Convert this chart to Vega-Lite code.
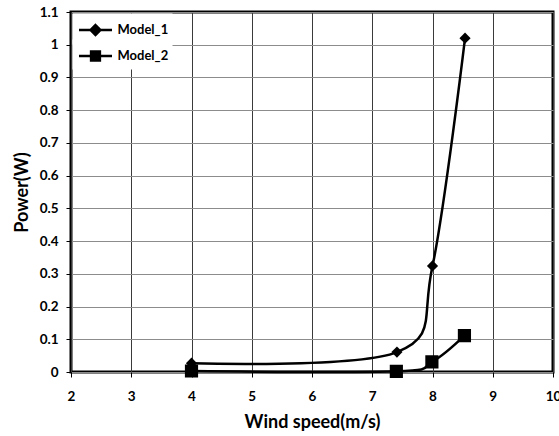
{
  "$schema": "https://vega.github.io/schema/vega-lite/v6.json",
  "width": 482,
  "height": 360,
  "autosize": {"type": "none"},
  "padding": {"left": 71, "top": 12, "right": 6, "bottom": 64},
  "background": "white",
  "config": {
    "font": "Lato",
    "view": {"stroke": "black", "strokeWidth": 3},
    "legend": {
      "orient": "none",
      "title": null,
      "fillColor": "white",
      "padding": 4,
      "symbolSize": 484,
      "symbolStrokeWidth": 2.5,
      "symbolFillColor": "black",
      "symbolStrokeColor": "black",
      "symbolOpacity": 1,
      "labelOffset": 16,
      "labelFont": "Lato", "labelFontWeight": "bold", "labelFontSize": 13, "labelColor": "black"
    }
  },
  "data": {
    "values": [
      {"series": "Model_1", "speed": 4, "power": 0.027},
      {"series": "Model_1", "speed": 7.41, "power": 0.061},
      {"series": "Model_1", "speed": 8.0, "power": 0.324},
      {"series": "Model_1", "speed": 8.54, "power": 1.02},
      {"series": "Model_2", "speed": 4, "power": 0.003},
      {"series": "Model_2", "speed": 7.4, "power": 0.002},
      {"series": "Model_2", "speed": 7.99, "power": 0.031},
      {"series": "Model_2", "speed": 8.53, "power": 0.111}
    ]
  },
  "encoding": {
    "x": {
      "field": "speed", "type": "quantitative",
      "scale": {"domain": [2, 10], "nice": false, "zero": false},
      "axis": {
        "title": "Wind speed(m/s)",
        "values": [2, 3, 4, 5, 6, 7, 8, 9, 10],
        "format": "d",
        "grid": true, "gridColor": "#3a3a3a", "gridWidth": 1, "gridOpacity": 1,
        "domain": false,
        "ticks": true, "tickColor": "black", "tickSize": 5, "tickWidth": 1,
        "labelFont": "Lato", "labelFontWeight": "bold", "labelFontSize": 13.5, "labelColor": "black",
        "labelPadding": 12, "labelFlush": false,
        "titleFont": "Lato", "titleFontWeight": "bold", "titleFontSize": 18, "titleColor": "black",
        "titlePadding": 11
      }
    },
    "y": {
      "field": "power", "type": "quantitative",
      "scale": {"domain": [0, 1.1], "nice": false},
      "axis": {
        "title": "Power(W)",
        "values": [0, 0.1, 0.2, 0.3, 0.4, 0.5, 0.6, 0.7, 0.8, 0.9, 1, 1.1],
        "format": ".1~f",
        "grid": true, "gridColor": "#8c8c8c", "gridWidth": 1, "gridOpacity": 1,
        "domain": false,
        "ticks": true, "tickColor": "black", "tickSize": 5, "tickWidth": 1,
        "labelFont": "Lato", "labelFontWeight": "bold", "labelFontSize": 13.5, "labelColor": "black",
        "labelPadding": 8,
        "titleFont": "Lato", "titleFontWeight": "bold", "titleFontSize": 18, "titleColor": "black",
        "titlePadding": 8
      }
    }
  },
  "layer": [
    {
      "mark": {"type": "line", "interpolate": "cardinal", "color": "black", "strokeWidth": 2.5},
      "encoding": {"detail": {"field": "series"}}
    },
    {
      "transform": [{"filter": "datum.series === 'Model_1'"}],
      "mark": {"type": "point", "shape": "diamond", "filled": true, "opacity": 1, "size": 125},
      "encoding": {
        "fill": {
          "field": "series", "type": "nominal",
          "scale": {"domain": ["Model_1"], "range": ["black"]},
          "legend": {
            "legendX": 1.5,
            "legendY": 1.5,
            "symbolType": "M-0.91,0H2.09M0.59,-0.45L1.04,0L0.59,0.45L0.14,0Z"
          }
        }
      }
    },
    {
      "transform": [{"filter": "datum.series === 'Model_2'"}],
      "mark": {"type": "point", "shape": "square", "filled": true, "opacity": 1, "size": 125, "fill": "black"},
      "encoding": {
        "stroke": {
          "field": "series", "type": "nominal",
          "scale": {"domain": ["Model_2"], "range": ["black"]},
          "legend": {
            "legendX": 1.5,
            "legendY": 27.5,
            "symbolType": "M-0.91,0H2.09M0.19,-0.4H0.99V0.4H0.19Z"
          }
        }
      }
    }
  ]
}
